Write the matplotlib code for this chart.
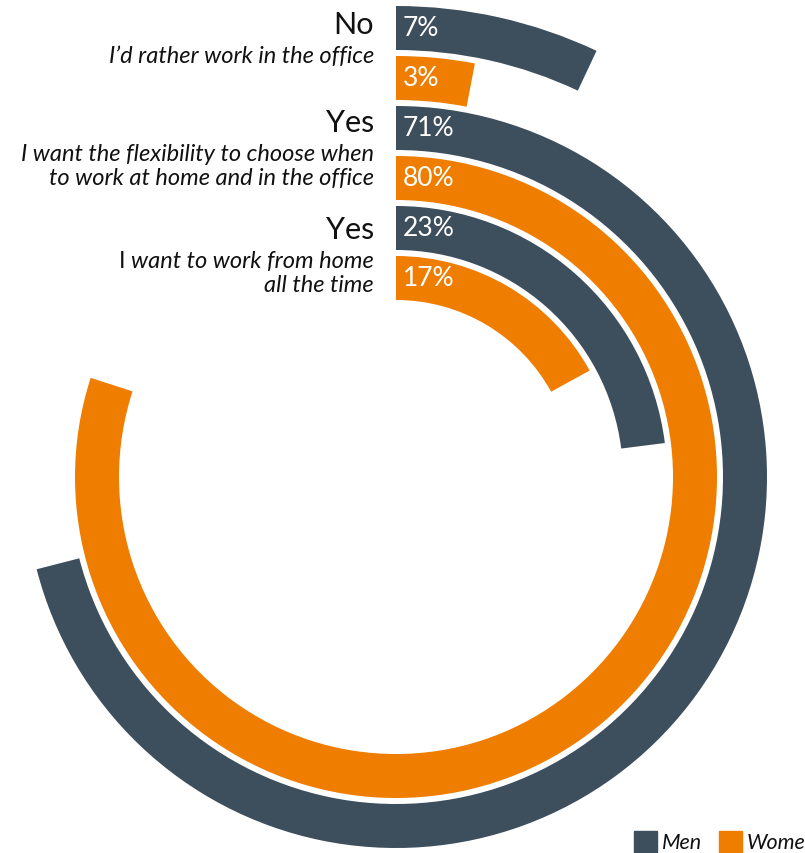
import matplotlib.pyplot as plt
import numpy as np
from matplotlib.patches import Rectangle

# Survey answers, outermost ring first
titles = ["No", "Yes", "Yes"]
subtitles = [
    ["I\u2019d rather work in the office"],
    ["I want the flexibility to choose when", "to work at home and in the office"],
    ["I want to work from home", "all the time"],
]
men = [7, 71, 23]
women = [3, 80, 17]

dark = "#3d4e5d"
orange = "#ef7d00"
ink = "#111111"
plt.rcParams['font.family'] = ['Lato', 'DejaVu Sans']

W, H = 805, 854
fig = plt.figure(figsize=(W / 100, H / 100), dpi=100)

# polar axes in pixel units: centre at (396, 478) from top-left
cx, cy, rmax = 396, 478, 480
ax = fig.add_axes([(cx - rmax) / W, (H - cy - rmax) / H, 2 * rmax / W, 2 * rmax / H],
                  projection='polar')
ax.set_theta_zero_location('N')
ax.set_theta_direction(-1)
ax.set_rlim(0, rmax)
ax.axis('off')

ring_w = 44
step = 50
r_first = 471 - ring_w / 2

vals, cols = [], []
for m, w in zip(men, women):
    vals += [m, w]
    cols += [dark, orange]
radii = r_first - step * np.arange(len(vals))

ax.barh(radii, np.radians(np.array(vals) * 3.6), height=ring_w, left=0,
        color=cols, linewidth=0)

for r, v in zip(radii, vals):
    ax.annotate(f"{v}%", xy=(0, r), xytext=(7, 0), textcoords='offset pixels',
                ha='left', va='center', color='white', fontsize=19)

# overlay for labels and legend, in pixels from top-left
tx = fig.add_axes([0, 0, 1, 1])
tx.set_xlim(0, W)
tx.set_ylim(H, 0)
tx.axis('off')

title_base = [34, 132, 239]
sub_base = [63, 161, 268]
line_gap = 24
right = 374
sub_size = 17
renderer = fig.canvas.get_renderer()

for i, (t, lines) in enumerate(zip(titles, subtitles)):
    tx.text(right, title_base[i], t, ha='right', va='baseline', fontsize=22, color=ink)
    for j, line in enumerate(lines):
        y = sub_base[i] + j * line_gap
        if i == 2 and j == 0:
            # leading capital set upright, rest italic
            rest = tx.text(right, y, line[2:], ha='right', va='baseline', fontsize=sub_size,
                           style='italic', color=ink)
            bb = rest.get_window_extent(renderer)
            x_left = tx.transData.inverted().transform((bb.x0, 0))[0]
            tx.text(x_left - 6, y, line[0], ha='right', va='baseline', fontsize=sub_size,
                    color=ink)
        else:
            tx.text(right, y, line, ha='right', va='baseline', fontsize=sub_size,
                    style='italic', color=ink)

# legend
for x0, c, lab in [(634, dark, "Men"), (719, orange, "Women")]:
    tx.add_patch(Rectangle((x0, 832), 23, 24, color=c, clip_on=False))
    tx.text(x0 + 28, 849, lab, ha='left', va='baseline', fontsize=15.5, style='italic',
            color=ink)

fig.savefig("out.png", dpi=100)
